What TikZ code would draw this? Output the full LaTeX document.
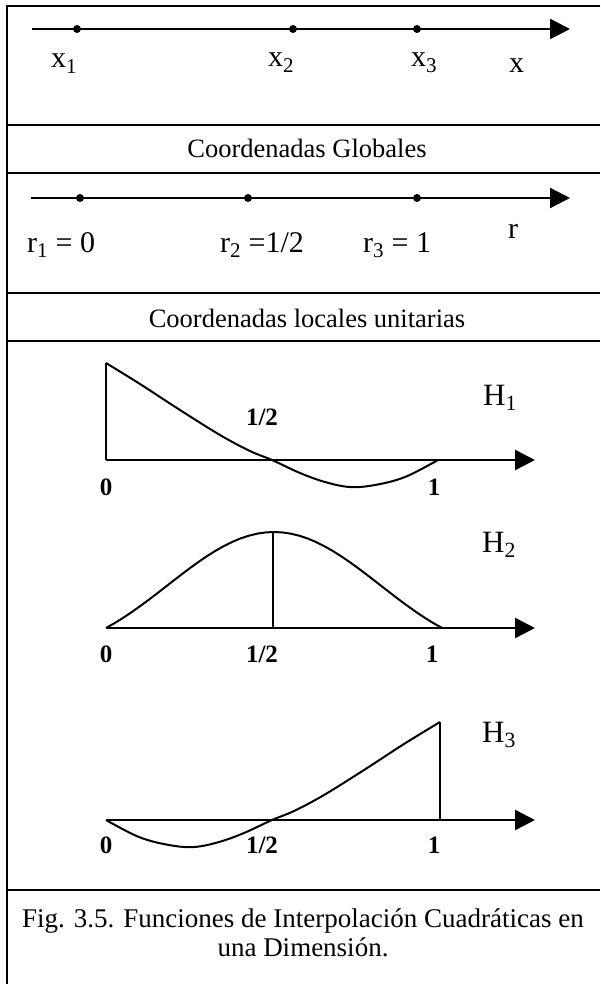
\documentclass[tikz,border=0pt]{standalone}
\usepackage{fontspec}
\setmainfont{Liberation Serif}
\usetikzlibrary{arrows.meta}
\tikzset{
  fr/.style={line width=2.8pt},
  ax/.style={line width=2.4pt, -{Triangle[length=20pt,width=20pt]}},
  crv/.style={line width=2pt},
  knot/.style={circle, fill, inner sep=0pt, minimum size=8pt},
  lbl/.style={inner sep=0pt, font=\fontsize{30}{32}\selectfont},
  ttl/.style={inner sep=0pt, font=\fontsize{26.5}{32}\selectfont},
  tk/.style={inner sep=0pt, font=\fontsize{25}{28}\selectfont\bfseries},
  hl/.style={inner sep=0pt, font=\fontsize{31}{34}\selectfont},
  figcap/.style={inner sep=0pt, font=\fontsize{27}{28}\selectfont}
}

\begin{document}
\begin{tikzpicture}[x=1pt, y=-1pt]
\useasboundingbox (0,0) rectangle (600,984);
\draw[fr] (600,6) -- (7,6) -- (7,984);
\draw[fr] (7,125) -- (600,125);
\draw[fr] (7,173) -- (600,173);
\draw[fr] (7,293) -- (600,293);
\draw[fr] (7,341) -- (600,341);
\draw[fr] (7,890) -- (600,890);

\coordinate (xs) at (32,29);
\coordinate (xe) at (570,29);
\draw[ax] (xs) -- (xe);
\node[knot] (g1) at (77,29) {};
\node[knot] (g2) at (293,29) {};
\node[knot] (g3) at (417,29) {};
\node[lbl, anchor=base west] (lx1) at (51,68) {x\textsubscript{1}};
\node[lbl, anchor=base west] (lx2) at (268,67) {x\textsubscript{2}};
\node[lbl, anchor=base west] (lx3) at (411,67) {x\textsubscript{3}};
\node[lbl, anchor=base west] (lx) at (509,73) {x};
\node[ttl, anchor=base] (tglob) at (307,158) {Coordenadas Globales};

\coordinate (rs) at (31,198);
\coordinate (re) at (570,198);
\draw[ax] (rs) -- (re);
\node[knot] (l1) at (80,198) {};
\node[knot] (l2) at (248,198) {};
\node[knot] (l3) at (417,198) {};
\node[lbl, anchor=base west] (lr1) at (27,252) {r\textsubscript{1} = 0};
\node[lbl, anchor=base west] (lr2) at (220,252) {r\textsubscript{2} =1/2};
\node[lbl, anchor=base west] (lr3) at (363,252) {r\textsubscript{3} = 1};
\node[lbl, anchor=base west] (lr) at (508,238) {r};
\node[ttl, anchor=base] (tloc) at (307,327) {Coordenadas locales unitarias};

\coordinate (a1) at (106,460);
\coordinate (b1) at (535,460);
\coordinate (h1) at (106,363);
\draw[ax] (a1) -- (b1);
\draw[crv] (a1) -- (h1);
\draw[crv] plot[smooth, tension=0.6] coordinates {(106,363) (140,384) (180,410) (220,435) (250,451) (272,460) (300,473) (325,482) (350,487) (375,485) (405,477) (438,460)};
\node[tk, anchor=base] (o1) at (106,495) {0};
\node[tk, anchor=base] (m1) at (262,425) {1/2};
\node[tk, anchor=base] (u1) at (434,495) {1};
\node[hl, anchor=base west] (nH1) at (483,405) {H\textsubscript{1}};

\coordinate (a2) at (106,628);
\coordinate (b2) at (535,628);
\coordinate (h2) at (273,532);
\coordinate (f2) at (273,628);
\draw[ax] (a2) -- (b2);
\draw[crv] plot[domain=0:1, samples=41] ({106+336*\x},{628-96*(0.6*sin(180*\x)+0.4*(sin(180*\x))^2)});
\draw[crv] (h2) -- (f2);
\node[tk, anchor=base] (o2) at (106,662) {0};
\node[tk, anchor=base] (m2) at (262,662) {1/2};
\node[tk, anchor=base] (u2) at (432,662) {1};
\node[hl, anchor=base west] (nH2) at (482,552) {H\textsubscript{2}};

\coordinate (a3) at (106,820);
\coordinate (b3) at (535,820);
\coordinate (h3) at (440,722);
\coordinate (f3) at (440,820);
\draw[ax] (a3) -- (b3);
\draw[crv] (h3) -- (f3);
\draw[crv] plot[smooth, tension=0.6] coordinates {(106,820) (139,837) (169,845) (194,847) (219,842) (244,833) (272,820) (294,811) (324,795) (364,770) (404,744) (440,722)};
\node[tk, anchor=base] (o3) at (106,853) {0};
\node[tk, anchor=base] (m3) at (262,853) {1/2};
\node[tk, anchor=base] (u3) at (434,853) {1};
\node[hl, anchor=base west] (nH3) at (482,742) {H\textsubscript{3}};

\node[figcap, anchor=base] (fig1) at (303,927) {Fig. 3.5. Funciones de Interpolación Cuadráticas en};
\node[figcap, anchor=base] (fig2) at (303,956) {una Dimensión.};
\end{tikzpicture}
\end{document}
